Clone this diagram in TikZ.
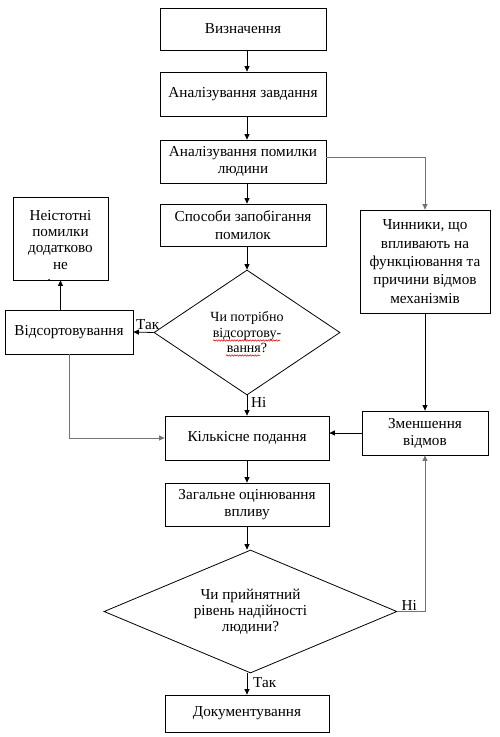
\documentclass[tikz,border=0pt]{standalone}
\usepackage{fontspec}
\setmainfont{Liberation Serif}
\usetikzlibrary{arrows.meta,shapes.geometric,decorations.pathmorphing}
\begin{document}
\begin{tikzpicture}[x=1pt,y=-1pt,
  txt/.style={align=center,inner sep=0pt,font=\fontsize{15.2}{17}\selectfont},
  box/.style={txt,draw,line width=0.8pt},
  decision/.style={diamond,draw,line width=0.8pt,inner sep=0pt},
  link/.style={line width=0.8pt,-{Triangle[length=5.5pt,width=5pt]}},
  greylink/.style={link,draw=black!55},
  lbl/.style={font=\fontsize{15.2}{17}\selectfont,inner sep=1pt},
  squiggle/.style={draw=red!85!black,line width=0.5pt,decorate,
    decoration={snake,amplitude=0.7pt,segment length=2.6pt}}]
\useasboundingbox (0,0) rectangle (500,737);

% axis of the vertical arrows in the main column
\coordinate (axis) at (247,0);

% main column
\node[box,minimum width=166pt,minimum height=42pt] (def)  at (243,29)    {Визначення};
\node[box,minimum width=166pt,minimum height=44pt] (task) at (243,94)    {Аналізування завдання};
\node[box,minimum width=166pt,minimum height=43pt,font=\fontsize{15.2}{17}\selectfont] (hea) at (243,161.5) {Аналізування помилки\\людини};
\node[box,minimum width=166pt,minimum height=42pt,font=\fontsize{15.2}{18}\selectfont] (prev) at (243,225) {Способи запобігання\\помилок};

% sorting decision
\node[decision,minimum width=186pt,minimum height=125pt] (d1) at (247,332.5) {};
\node[txt,font=\fontsize{14}{15.5}\selectfont] (d1t) at (d1.center) {Чи потрібно\\відсортову-\\вання?};
\draw[squiggle] (213,340.5) -- (280,340.5);
\draw[squiggle] (226,355.5) -- (260,355.5);

% left branch
\node[box,minimum width=128pt,minimum height=44pt] (sort) at (69,332) {Відсортовування};
\node[draw,line width=0.8pt,minimum width=95pt,minimum height=83pt,inner sep=0pt] (neist) at (60.5,238.5) {};
\begin{scope}
  \clip (neist.south west) rectangle (neist.north east);
  \node[txt,font=\fontsize{15.2}{16.3}\selectfont,anchor=base] (neistt) at (60.5,289.5) {Неістотні\\помилки\\додатково\\не\\[4pt]аналізуються};
\end{scope}

% right branch
\node[box,minimum width=130pt,minimum height=103pt,font=\fontsize{15.2}{18.3}\selectfont] (chin) at (425,261.5) {Чинники, що\\впливають на\\функціювання та\\причини відмов\\механізмів};
\node[box,minimum width=126pt,minimum height=44pt,font=\fontsize{15.2}{17}\selectfont] (zm) at (425,433) {Зменшення\\відмов};

% lower column
\node[box,minimum width=164pt,minimum height=44pt] (kil) at (247,438) {Кількісне подання};
\node[box,minimum width=164pt,minimum height=43pt,font=\fontsize{15.2}{17}\selectfont] (zag) at (247,504.5) {Загальне оцінювання\\впливу};
\node[decision,minimum width=293pt,minimum height=123pt] (d2) at (250.5,611.5) {};
\node[txt,font=\fontsize{15.2}{16.2}\selectfont] (d2t) at (d2.center) {Чи прийнятний\\рівень надійності\\людини?};
\node[box,minimum width=164pt,minimum height=37pt] (doc) at (247,713.5) {Документування};

% connectors
\draw[link] (def.south -| axis) -- (task.north -| axis);
\draw[link] (task.south -| axis) -- (hea.north -| axis);
\draw[link] (hea.south -| axis) -- (prev.north -| axis);
\draw[greylink] (hea.east |- 0,157) -| (chin.north);
\draw[link] (prev.south -| axis) -- (d1.north);
\draw[link] (d1.west) -- (sort.east);
\draw[link] (neist.south |- sort.north) -- (neist.south);
\draw[greylink] (sort.south) |- (kil.west);
\draw[link] (d1.south) -- (kil.north);
\draw[link] (chin.south) -- (zm.north);
\draw[link] (zm.west) -- (zm.west -| kil.east);
\draw[link] (kil) -- (zag);
\draw[link] (zag.south) -- (zag.south |- d2.north);
\draw[greylink] (d2.east) -| (zm.south);
\draw[link] (d2.south -| doc.north) -- (doc.north);

% branch labels
\node[lbl,anchor=south] at ([xshift=-6pt,yshift=2pt]d1.west) {Так};
\node[lbl,anchor=north west] at ([xshift=3pt,yshift=-1pt]d1.south) {Ні};
\node[lbl,anchor=south west] at ([xshift=3pt,yshift=0pt]d2.east) {Ні};
\node[lbl,anchor=north west] at ([xshift=5pt,yshift=-3pt]d2.south -| doc.north) {Так};
\end{tikzpicture}
\end{document}
